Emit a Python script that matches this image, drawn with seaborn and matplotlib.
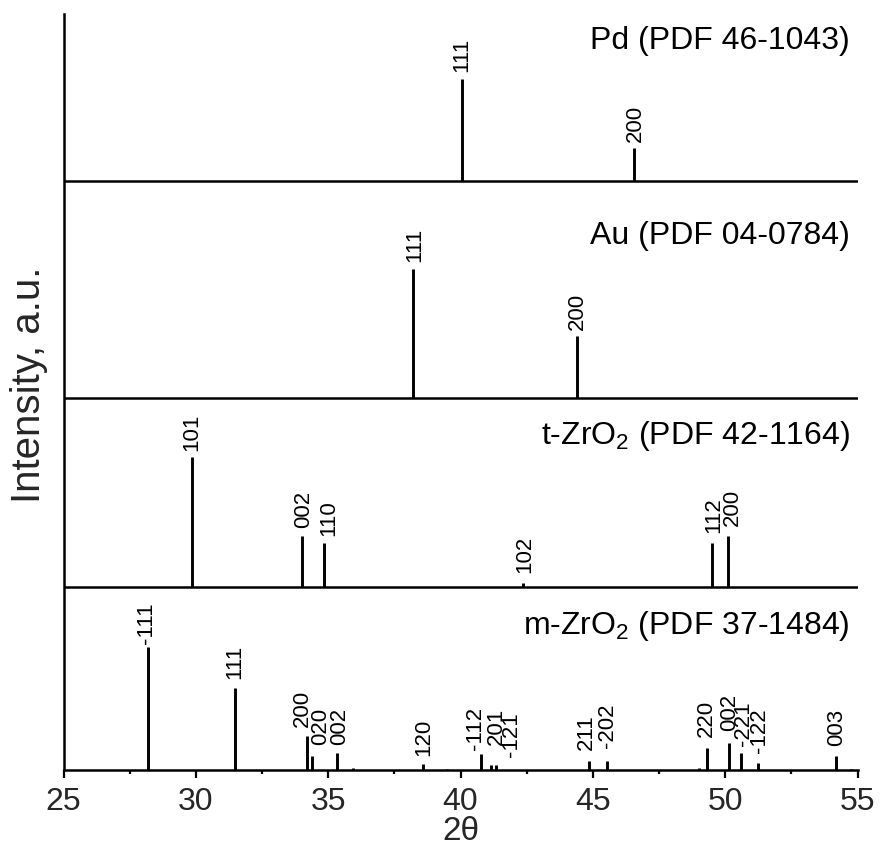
import numpy as np
import pandas as pd
import matplotlib
matplotlib.use("Agg")
import matplotlib.pyplot as plt
import seaborn as sns

# ---- reference patterns (2theta in degrees, relative intensity in %) ----
pd_pos = [40.04, 46.55]
pd_int = [100, 32]
pd_hkl = ["111", "200"]

au_pos = [38.21, 44.41]
au_int = [100, 48]
au_hkl = ["111", "200"]

t_pos = [29.84, 34.02, 34.85, 42.35, 49.51, 50.12]
t_int = [100, 39, 34, 3, 34, 39]
t_hkl = ["101", "002", "110", "102", "112", "200"]

m_pos = [28.20, 31.48, 34.19, 34.40, 35.32, 35.93, 38.57, 39.48, 40.76, 41.16,
         41.35, 44.86, 45.52, 49.00, 49.31, 50.15, 50.59, 51.23, 54.18, 54.74]
m_int = [100, 67, 28, 11, 14, 2, 5, 1, 13, 4,
         4, 7, 7, 2, 18, 22, 14, 6, 11, 1]
m_hkl = ["-111", "111", "200", "020", "002", "", "120", "", "-112", "201",
         "-121", "211", "-202", "", "220", "002", "-221", "-122", "003", ""]

phase_names = ["Pd (PDF 46-1043)", "Au (PDF 04-0784)",
               "t-ZrO$_\\mathregular{2}$ (PDF 42-1164)",
               "m-ZrO$_\\mathregular{2}$ (PDF 37-1484)"]

xticks = [25, 30, 35, 40, 45, 50, 55]

# ---- stacking layout: baseline offset, height scale, title height ----
panel_offset = {"Pd": 589.0, "Au": 372.0, "t": 183.3, "m": 0.0}
panel_scale = {"Pd": 1.02, "Au": 1.287, "t": 1.294, "m": 1.23}
title_height = {"Pd": 131.5, "Au": 153.7, "t": 142.4, "m": 136.0}
y_top = 756.0

# label nudges (dx, gap) in pixels relative to the stick top
label_nudge = {
    "Pd": [(-1.7, 7.3), (-0.7, 6.6)],
    "Au": [(-0.8, 7.6), (-2.3, 6.0)],
    "t": [(-1.7, 6.6), (-0.6, 8.0), (2.4, 6.7), (0.0, 9.7), (-0.6, 9.4), (1.7, 10.0)],
    "m": [(-3.3, 3.0), (-2.5, 9.0), (-6.7, 8.3), (6.7, 11.0), (0.7, 8.0), (0, 0),
          (-0.7, 8.0), (0, 0), (-7.5, 4.3), (2.9, 20.0), (13.0, 8.3), (-4.3, 11.0),
          (-0.7, 13.4), (0, 0), (-2.5, 11.0), (-1.3, 11.6), (0.3, 6.6), (-0.2, 10.0),
          (-1.0, 10.0), (0, 0)],
}

phases = [
    ("Pd", pd_pos, pd_int, pd_hkl, phase_names[0]),
    ("Au", au_pos, au_int, au_hkl, phase_names[1]),
    ("t", t_pos, t_int, t_hkl, phase_names[2]),
    ("m", m_pos, m_int, m_hkl, phase_names[3]),
]

# long-form table: every stick is a two-point segment (baseline -> top)
rows = []
for key, pos, inten, hkl, _ in phases:
    base = panel_offset[key]
    for i, (x, h) in enumerate(zip(pos, inten)):
        uid = f"{key}{i}"
        rows.append({"stick": uid, "two_theta": x, "y": base})
        rows.append({"stick": uid, "two_theta": x, "y": base + h * panel_scale[key]})
sticks = pd.DataFrame(rows)

sns.set_theme(style="white")
plt.rcParams["font.family"] = ["Liberation Sans", "DejaVu Sans"]
plt.rcParams["mathtext.fontset"] = "custom"
plt.rcParams["mathtext.rm"] = "Liberation Sans"

fig = plt.figure(figsize=(8.82, 8.56), dpi=100)
W, H = 882, 856
ax = fig.add_axes([63.5 / W, (H - 770) / H, 794 / W, 756 / H])

sns.lineplot(data=sticks, x="two_theta", y="y", units="stick", estimator=None,
             sort=False, color="black", linewidth=2.1, ax=ax, legend=False)
for ln in ax.lines:
    ln.set_solid_capstyle("butt")

# panel separators
for key in ["Pd", "Au", "t"]:
    ax.axhline(panel_offset[key], color="black", lw=1.8, zorder=1)

# Miller indices above the sticks
for key, pos, inten, hkl, name in phases:
    base = panel_offset[key]
    for (x, h, lab, (dx, gap)) in zip(pos, inten, hkl, label_nudge[key]):
        if not lab:
            continue
        top = base + h * panel_scale[key]
        ax.annotate(lab, xy=(x, top), xytext=((dx + 2.0) * 0.72, gap * 0.72),
                    textcoords="offset points", rotation=90,
                    ha="center", va="bottom", fontsize=16, color="black")
    ax.text(0.9906, base + title_height[key], name, transform=ax.get_yaxis_transform(),
            ha="right", va="baseline", fontsize=23, color="black")

ax.set_xlim(25, 55)
ax.set_ylim(0, y_top)
ax.set_xticks(xticks)
ax.set_xticklabels([str(v) for v in xticks])
ax.set_xticks(np.arange(27.5, 55, 5), minor=True)
ax.set_yticks([])

for side in ["top", "right"]:
    ax.spines[side].set_visible(False)
for side in ["left", "bottom"]:
    ax.spines[side].set_color("black")
    ax.spines[side].set_linewidth(1.8)

ax.tick_params(axis="x", which="major", direction="out", length=5.8, width=1.6,
               color="black", labelsize=23, pad=6.5, bottom=True)
ax.tick_params(axis="x", which="minor", direction="out", length=3.0, width=1.6,
               color="black", bottom=True)

ax.set_xlabel("2θ", fontsize=24, labelpad=-1)
ax.set_ylabel("Intensity, a.u.", fontsize=29)
ax.yaxis.set_label_coords(-0.02, 0.509)

fig.savefig("out.png", dpi=100, facecolor="white")
